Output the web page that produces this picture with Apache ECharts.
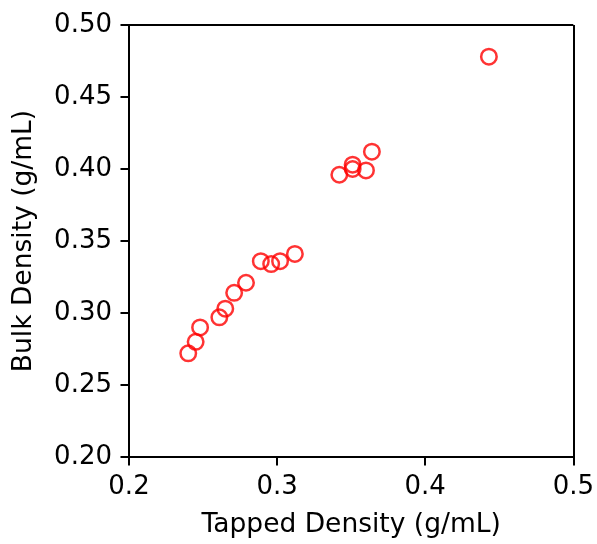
<!DOCTYPE html>
<html><head><meta charset="utf-8">
<script src="https://cdn.jsdelivr.net/npm/echarts@6/dist/echarts.min.js"></script>
<style>html,body{margin:0;padding:0;background:#fff}#c{width:597px;height:544px}</style>
</head><body><div id="c"></div>
<script>
const tappedDensity = [0.443, 0.342, 0.351, 0.351, 0.360, 0.364, 0.312, 0.302, 0.296, 0.289, 0.279, 0.271, 0.265, 0.261, 0.248, 0.245, 0.240];
const bulkDensity   = [0.478, 0.396, 0.403, 0.400, 0.399, 0.412, 0.341, 0.336, 0.334, 0.336, 0.321, 0.314, 0.303, 0.297, 0.290, 0.280, 0.272];
const xTicks = [0.2, 0.3, 0.4, 0.5];
const yTicks = [0.20, 0.25, 0.30, 0.35, 0.40, 0.45, 0.50];
const font = 'DejaVu Sans';
const fs = 26;
const chart = echarts.init(document.getElementById('c'));
chart.setOption({
  animation: false,
  grid: {left: 129, right: 22, top: 25, bottom: 84},
  xAxis: {
    type: 'value', min: 0.2, max: 0.5, interval: 0.1,
    name: 'Tapped Density (g/mL)', nameLocation: 'middle', nameGap: 55,
    nameTextStyle: {fontFamily: font, fontSize: 26.5, color: '#000'},
    axisLine: {show: true, onZero: false, lineStyle: {color: '#000', width: 2}},
    axisTick: {show: true, length: 8.5, lineStyle: {color: '#000', width: 2}},
    axisLabel: {fontFamily: font, fontSize: fs, color: '#000', margin: 17,
      formatter: v => { const t = xTicks.find(k => Math.abs(k - v) < 1e-9); return t === undefined ? '' : t.toFixed(1); }},
    splitLine: {show: false}
  },
  yAxis: {
    type: 'value', min: 0.2, max: 0.5, interval: 0.05,
    name: 'Bulk Density (g/mL)', nameLocation: 'middle', nameGap: 91, nameRotate: 90,
    nameTextStyle: {fontFamily: font, fontSize: 26.5, color: '#000'},
    axisLine: {show: true, onZero: false, lineStyle: {color: '#000', width: 2}},
    axisTick: {show: true, length: 8.5, lineStyle: {color: '#000', width: 2}},
    axisLabel: {fontFamily: font, fontSize: fs, color: '#000', margin: 17,
      formatter: v => { const t = yTicks.find(k => Math.abs(k - v) < 1e-9); return t === undefined ? '' : t.toFixed(2); }},
    splitLine: {show: false}
  },
  series: [{
    type: 'scatter',
    data: tappedDensity.map((x, i) => [x, bulkDensity[i]]),
    symbol: 'circle', symbolSize: 15.5,
    itemStyle: {color: 'rgba(0,0,0,0)', borderColor: '#ff0000', borderWidth: 2.5}
  }, {
    type: 'line', data: [], markLine: {silent: true, symbol: 'none', label: {show: false},
      lineStyle: {color: '#000', width: 2, type: 'solid'},
      data: [[{coord: [0.2, 0.5]}, {coord: [0.5, 0.5]}], [{coord: [0.5, 0.2]}, {coord: [0.5, 0.5]}]]}
  }]
});
</script></body></html>
